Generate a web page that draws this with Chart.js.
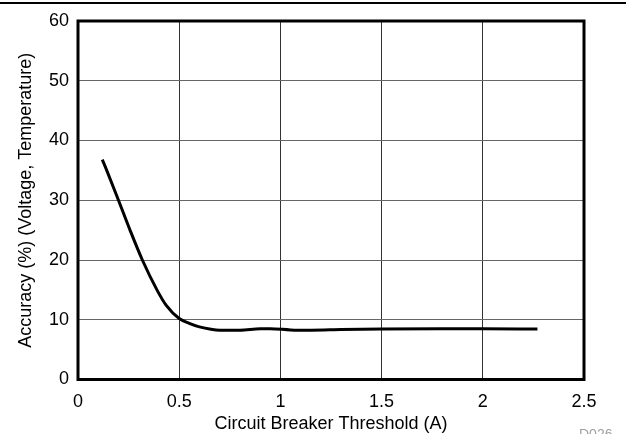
<!DOCTYPE html>
<html>
<head>
<meta charset="utf-8">
<script src="https://cdn.jsdelivr.net/npm/chart.js@4"></script>
<style>
  html, body { margin: 0; padding: 0; background: #fff; }
  #wrap { width: 626px; height: 434px; position: relative; }
</style>
</head>
<body>
<div id="wrap"><canvas id="c" width="626" height="434"></canvas></div>
<script>
// Circuit breaker threshold (A)
const thresholdA = [0.12, 0.142, 0.2, 0.257, 0.318, 0.39, 0.436, 0.5, 0.55, 0.6, 0.65, 0.7, 0.8, 0.9, 0.95, 1.05, 1.15, 1.3, 1.5, 1.8, 2.0, 2.27];
// Accuracy (%)
const accuracyPct = [36.8, 35, 30, 25, 20, 15, 12.4, 10.2, 9.4, 8.8, 8.45, 8.25, 8.25, 8.5, 8.5, 8.3, 8.25, 8.35, 8.45, 8.5, 8.5, 8.45];
const xTicks = [0, 0.5, 1, 1.5, 2, 2.5];
const yTicks = [0, 10, 20, 30, 40, 50, 60];
const xTitle = 'Circuit Breaker Threshold (A)';
const yTitle = 'Accuracy (%) (Voltage, Temperature)';
const footNote = 'D026';

const FONT = 'Liberation Sans, Arial, Helvetica, sans-serif';

const framePlugin = {
  id: 'frame',
  afterDraw(chart) {
    const {ctx, chartArea: a} = chart;
    ctx.save();
    ctx.strokeStyle = '#000';
    ctx.lineWidth = 3;
    ctx.strokeRect(a.left, a.top, a.right - a.left, a.bottom - a.top);
    ctx.lineWidth = 2;
    ctx.beginPath();
    ctx.moveTo(0, 3);
    ctx.lineTo(chart.width, 3);
    ctx.stroke();
    ctx.fillStyle = '#a0a0a0';
    ctx.font = '14px ' + FONT;
    ctx.textAlign = 'left';
    ctx.textBaseline = 'alphabetic';
    ctx.fillText(footNote, 579, 439);
    ctx.restore();
  }
};

new Chart(document.getElementById('c'), {
  type: 'line',
  data: {
    datasets: [{
      data: thresholdA.map((x, i) => ({x: x, y: accuracyPct[i]})),
      borderColor: '#000',
      borderWidth: 3,
      pointRadius: 0,
      cubicInterpolationMode: 'monotone',
      fill: false
    }]
  },
  options: {
    responsive: false,
    animation: false,
    layout: { padding: { top: 21, right: 42, left: 0, bottom: 0 } },
    plugins: { legend: { display: false }, tooltip: { enabled: false } },
    scales: {
      x: {
        type: 'linear',
        min: xTicks[0],
        max: xTicks[xTicks.length - 1],
        afterBuildTicks(s) { s.ticks = xTicks.map(v => ({value: v})); },
        afterFit(s) { s.height = 54.5; },
        grid: { color: '#333333', lineWidth: 1, drawTicks: false },
        border: { display: false },
        ticks: {
          color: '#000',
          padding: 12,
          font: { family: FONT, size: 18 },
          maxRotation: 0,
          callback: v => String(v)
        },
        title: {
          display: true,
          text: xTitle,
          color: '#000',
          font: { family: FONT, size: 18, lineHeight: 1 },
          padding: { top: 0, bottom: 1 }
        }
      },
      y: {
        type: 'linear',
        min: yTicks[0],
        max: yTicks[yTicks.length - 1],
        afterBuildTicks(s) { s.ticks = yTicks.map(v => ({value: v})); },
        afterFit(s) { s.width = 78; },
        grid: { color: '#666666', lineWidth: 1, drawTicks: false },
        border: { display: false },
        ticks: {
          color: '#000',
          padding: 9,
          font: { family: FONT, size: 18 },
          callback: v => String(v)
        },
        title: {
          display: true,
          text: yTitle,
          color: '#000',
          font: { family: FONT, size: 18, lineHeight: 1 },
          padding: { top: 17, bottom: 0 }
        }
      }
    }
  },
  plugins: [framePlugin]
});
</script>
</body>
</html>
